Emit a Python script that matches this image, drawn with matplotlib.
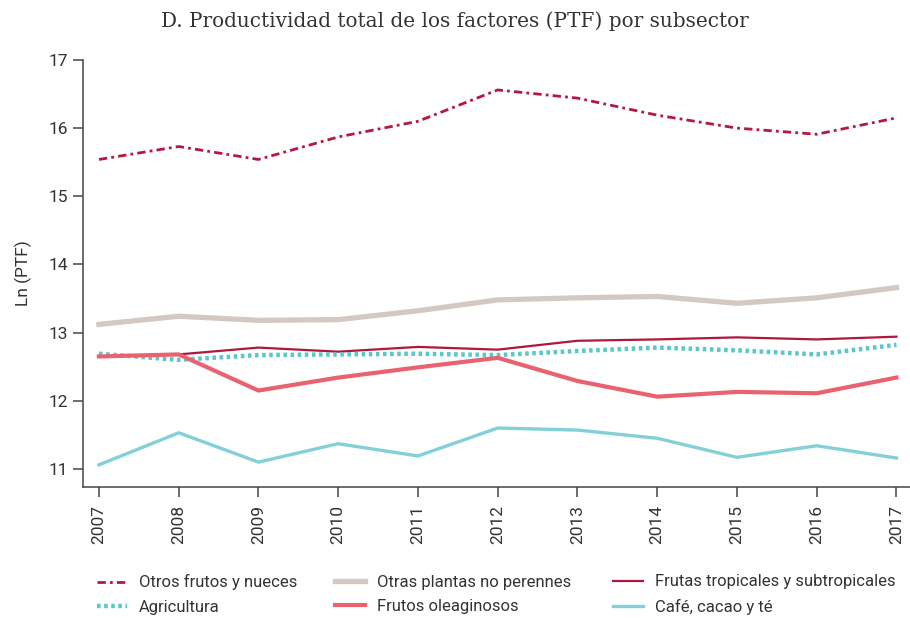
import matplotlib.pyplot as plt

years = [2007, 2008, 2009, 2010, 2011, 2012, 2013, 2014, 2015, 2016, 2017]

otros_frutos  = [15.54, 15.73, 15.54, 15.87, 16.10, 16.56, 16.44, 16.19, 16.00, 15.91, 16.15]
otras_plantas = [13.12, 13.24, 13.18, 13.19, 13.32, 13.48, 13.51, 13.53, 13.43, 13.51, 13.66]
frutas_trop   = [12.65, 12.68, 12.78, 12.72, 12.79, 12.75, 12.88, 12.90, 12.93, 12.90, 12.94]
agricultura   = [12.69, 12.60, 12.67, 12.68, 12.69, 12.67, 12.73, 12.78, 12.74, 12.68, 12.82]
frutos_oleag  = [12.65, 12.68, 12.15, 12.34, 12.49, 12.63, 12.29, 12.06, 12.13, 12.11, 12.34]
cafe          = [11.06, 11.53, 11.10, 11.37, 11.19, 11.60, 11.57, 11.45, 11.17, 11.34, 11.16]

yticks = [11, 12, 13, 14, 15, 16, 17]

plt.rcParams['font.family'] = ['Roboto', 'DejaVu Sans']

fig = plt.figure(figsize=(9.1, 6.18), dpi=100)
ax = fig.add_axes([0.0912, 0.212, 0.9088, 0.691])

ax.plot(years, otros_frutos, color="#B5173F", lw=2.0, dashes=(3, 1.5, 1, 1.5),
        label="Otros frutos y nueces")
ax.plot(years, otras_plantas, color="#D4C8C3", lw=3.8, label="Otras plantas no perennes")
ax.plot(years, frutas_trop, color="#B0173C", lw=1.6, label="Frutas tropicales y subtropicales")
ax.plot(years, agricultura, color="#5CC6CF", lw=3.2, dashes=(0.8, 0.8),
        solid_capstyle='butt', dash_capstyle='butt', label="Agricultura")
ax.plot(years, frutos_oleag, color="#E8626F", lw=3.0, label="Frutos oleaginosos")
ax.plot(years, cafe, color="#82D0D8", lw=2.4, label="Café, cacao y té")

ax.set_xlim(2006.8, 2017.17)
ax.set_ylim(10.735, 17)
ax.set_yticks(yticks)
ax.set_xticks(years)
ax.set_xticklabels([str(y) for y in years], rotation=90)
ax.tick_params(axis='both', direction='out', length=7, width=1.1, color="#444444",
               labelsize=12.5, labelcolor="#333333")
ax.tick_params(axis='x', pad=6)
for s in ['top', 'right']:
    ax.spines[s].set_visible(False)
for s in ['left', 'bottom']:
    ax.spines[s].set_color("#444444")
    ax.spines[s].set_linewidth(1.1)

ax.set_ylabel("Ln (PTF)", fontsize=12.5, color="#333333", labelpad=12)

fig.suptitle("D. Productividad total de los factores (PTF) por subsector",
             x=0.5, y=0.982, fontsize=14.4, family=['DejaVu Serif'], color="#333333")

# legend: three columns placed like the reference
h, l = ax.get_legend_handles_labels()
cols = [[0, 3], [1, 4], [2, 5]]
col_x = [97, 335, 613]
for idx, x0 in zip(cols, col_x):
    leg = fig.legend([h[i] for i in idx], [l[i] for i in idx],
                     loc='center left', bbox_to_anchor=(x0 / 910, 1 - 594.5 / 618),
                     frameon=False, fontsize=12, handlelength=1.8,
                     handletextpad=0.7, labelspacing=0.55, borderpad=0,
                     borderaxespad=0, labelcolor="#333333")

fig.savefig("out.png", dpi=100)
